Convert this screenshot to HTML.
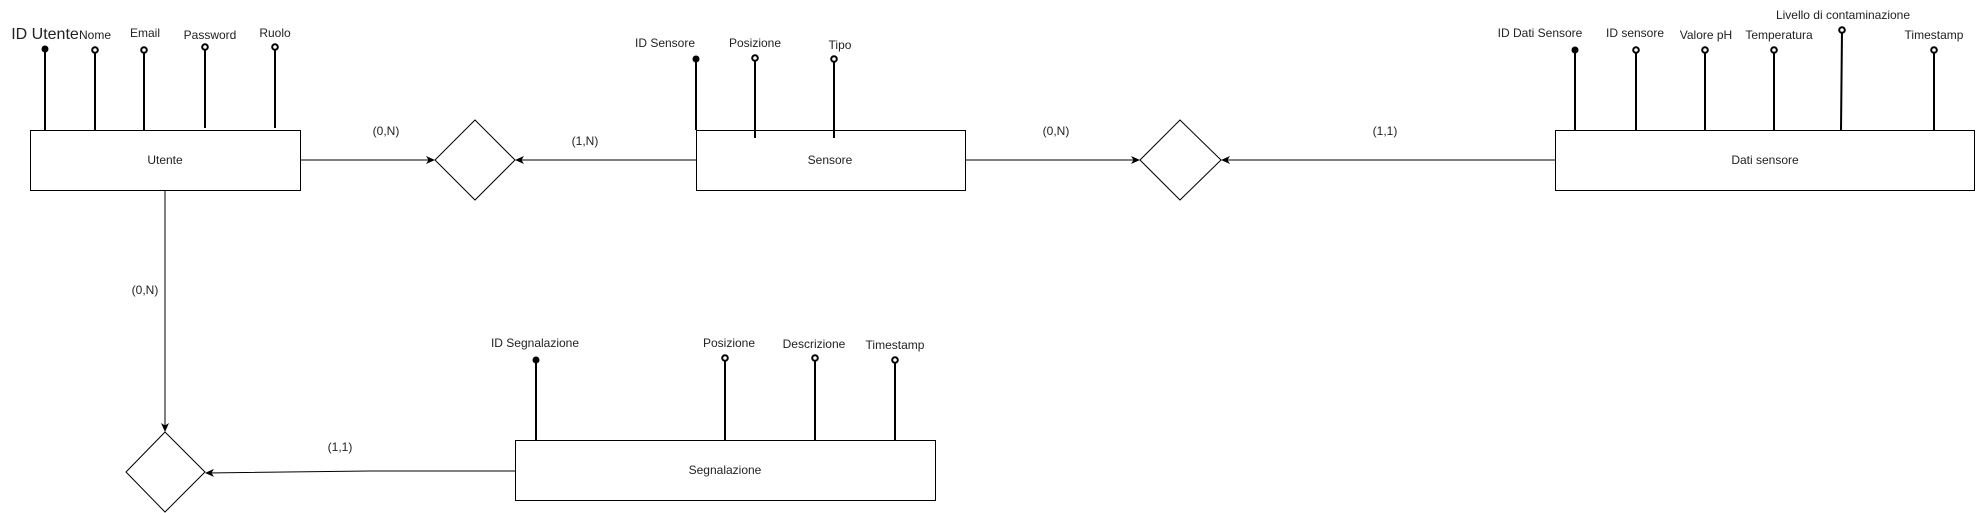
<!DOCTYPE html>
<html><head><meta charset="utf-8"><style>
html,body{margin:0;padding:0;background:#fff;}
svg{display:block;}
text{font-family:"Liberation Sans",Arial,sans-serif;font-size:12px;fill:#222;}
</style></head><body>
<svg width="1976" height="513" viewBox="0 0 1976 513" xmlns="http://www.w3.org/2000/svg">
<defs>
<marker id="a" markerWidth="10" markerHeight="10" refX="8" refY="5" orient="auto" markerUnits="userSpaceOnUse">
<path d="M0,1 L9,5 L0,9 L2.5,5 Z" fill="#000"/></marker>
</defs>
<g stroke="#000" stroke-width="1" fill="#fff">
<rect x="30.5" y="130.5" width="270" height="60"/>
<rect x="696.5" y="130.5" width="269" height="60"/>
<rect x="1555.5" y="130.5" width="419" height="60"/>
<rect x="515.5" y="440.5" width="420" height="60"/>
<path d="M475,120 L515,160 L475,200 L435,160 Z"/>
<path d="M1180,120 L1221,160 L1180,200 L1140,160 Z"/>
<path d="M165,432 L205,472 L165,512 L126,472 Z"/>
</g>
<g stroke="#000" stroke-width="1" fill="none">
<line x1="300" y1="160" x2="434" y2="160" marker-end="url(#a)"/>
<line x1="696" y1="160" x2="516" y2="160" marker-end="url(#a)"/>
<line x1="965" y1="160" x2="1139" y2="160" marker-end="url(#a)"/>
<line x1="1555" y1="160" x2="1222" y2="160" marker-end="url(#a)"/>
<line x1="165" y1="190" x2="165" y2="431" marker-end="url(#a)"/>
<path d="M515,471 L370,471 L206,473" marker-end="url(#a)"/>
</g>
<g stroke="#000" stroke-width="2">
<line x1="45" y1="49" x2="45" y2="130"/><line x1="95" y1="50" x2="95" y2="130"/>
<line x1="144" y1="50" x2="144" y2="130"/><line x1="205" y1="47" x2="205" y2="128"/>
<line x1="275" y1="47" x2="275" y2="128"/>
<line x1="696" y1="59" x2="696" y2="130"/><line x1="755" y1="58" x2="755" y2="138"/>
<line x1="834" y1="59" x2="834" y2="138"/>
<line x1="1575" y1="50" x2="1575" y2="130"/><line x1="1636" y1="50" x2="1636" y2="130"/>
<line x1="1705" y1="50" x2="1705" y2="130"/><line x1="1774" y1="50" x2="1774" y2="130"/>
<line x1="1842" y1="30" x2="1841" y2="130"/><line x1="1934" y1="50" x2="1934" y2="130"/>
<line x1="536" y1="360" x2="536" y2="440"/><line x1="725" y1="358" x2="725" y2="440"/>
<line x1="815" y1="358" x2="815" y2="440"/><line x1="895" y1="360" x2="895" y2="440"/>
</g>
<g fill="#000">
<circle cx="45" cy="49" r="3.5"/><circle cx="696" cy="59" r="3.5"/>
<circle cx="1575" cy="50" r="3.5"/><circle cx="536" cy="360" r="3.5"/>
</g>
<g fill="#fff" stroke="#000" stroke-width="2">
<circle cx="95" cy="50" r="2.8"/><circle cx="144" cy="50" r="2.8"/><circle cx="205" cy="47" r="2.8"/><circle cx="275" cy="47" r="2.8"/>
<circle cx="755" cy="58" r="2.8"/><circle cx="834" cy="59" r="2.8"/>
<circle cx="1636" cy="50" r="2.8"/><circle cx="1705" cy="50" r="2.8"/><circle cx="1774" cy="50" r="2.8"/><circle cx="1842" cy="30" r="2.8"/><circle cx="1934" cy="50" r="2.8"/>
<circle cx="725" cy="358" r="2.8"/><circle cx="815" cy="358" r="2.8"/><circle cx="895" cy="360" r="2.8"/>
</g>
<g text-anchor="middle">
<text x="45" y="39" style="font-size:16px">ID Utente</text>
<text x="95" y="39">Nome</text><text x="145" y="37">Email</text>
<text x="210" y="39">Password</text><text x="275" y="37">Ruolo</text>
<text x="165" y="164">Utente</text>
<text x="665" y="47">ID Sensore</text><text x="755" y="47">Posizione</text><text x="840" y="49">Tipo</text>
<text x="830" y="164">Sensore</text>
<text x="1540" y="37">ID Dati Sensore</text><text x="1635" y="37">ID sensore</text>
<text x="1706" y="39">Valore pH</text><text x="1779" y="39">Temperatura</text>
<text x="1843" y="19">Livello di contaminazione</text><text x="1934" y="39">Timestamp</text>
<text x="1765" y="164">Dati sensore</text>
<text x="535" y="347">ID Segnalazione</text><text x="729" y="347">Posizione</text>
<text x="814" y="348">Descrizione</text><text x="895" y="349">Timestamp</text>
<text x="725" y="474">Segnalazione</text>
<text x="386" y="135">(0,N)</text><text x="585" y="145">(1,N)</text>
<text x="1056" y="135">(0,N)</text><text x="1385" y="135">(1,1)</text>
<text x="145" y="294">(0,N)</text><text x="340" y="451">(1,1)</text>
</g>
</svg>
</body></html>
